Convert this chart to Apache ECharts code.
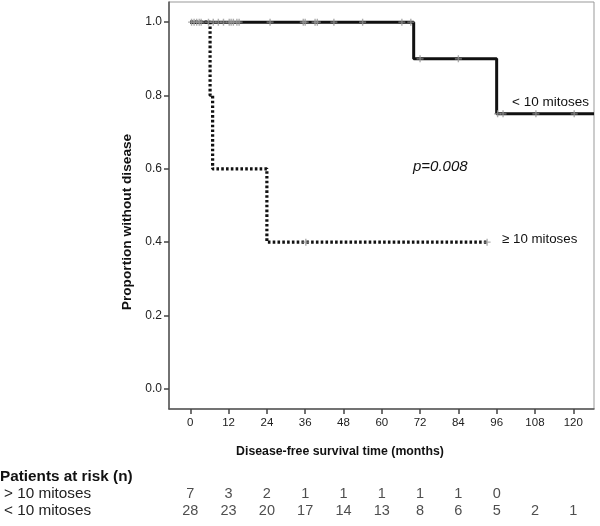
<!DOCTYPE html>
<html>
<head>
<meta charset="utf-8">
<script src="https://cdn.jsdelivr.net/npm/echarts@6/dist/echarts.min.js"></script>
<style>html,body{margin:0;padding:0;background:#fff}#c{width:600px;height:526px}</style>
</head>
<body>
<div id="c"></div>
<script>
// ---- data ----
const months = [0, 12, 24, 36, 48, 60, 72, 84, 96, 108, 120];
const yTicks = [0, 0.2, 0.4, 0.6, 0.8, 1.0];
// < 10 mitoses (solid)
const lowMitTimes = [0, 70, 96, 126.5];
const lowMitSurv = [1.0, 0.9, 0.75, 0.75];
const lowMitCensor = [0.4, 1.2, 2.0, 2.8, 3.4, 5.7, 7.2, 8.8, 10.4, 12.2, 12.8, 13.5, 14.6, 15.3, 25, 35.4, 36, 39.1, 39.8, 45, 54, 66.3, 69.1, 72, 84, 96.3, 98, 108.3, 120.3];
// >= 10 mitoses (dotted)
const highMitTimes = [0, 6.2, 7, 24, 93];
const highMitSurv = [1.0, 0.8, 0.6, 0.4, 0.4];
const highMitCensor = [36.2, 93];
// patients at risk
const riskRows = ['> 10 mitoses', '< 10 mitoses'];
const riskHigh = [7, 3, 2, 1, 1, 1, 1, 1, 0];
const riskLow = [28, 23, 20, 17, 14, 13, 8, 6, 5, 2, 1];

// ---- helpers ----
function survAt(times, surv, t) {
  let v = surv[0];
  for (let i = 0; i < times.length; i++) { if (times[i] <= t) v = surv[i]; }
  return v;
}
const pairs = (ts, vs) => ts.map((t, i) => [t, vs[i]]);
const FONT = 'Liberation Sans, Arial, sans-serif';
const plusPath = 'path://M4,0h2v4h4v2h-4v4h-2v-4h-4v-2h4z';

const chart = echarts.init(document.getElementById('c'), null, {renderer: 'canvas'});
const xMin = -6.67, xMax = 126.5;

const option = {
  animation: false,
  backgroundColor: '#fff',
  textStyle: {fontFamily: FONT},
  grid: [
    {left: 169, top: 2, right: 6, bottom: 117, show: true, borderColor: '#999', borderWidth: 1},
    {left: 169, top: 485, right: 6, height: 34, show: false}
  ],
  xAxis: [
    {
      type: 'value', gridIndex: 0, min: xMin, max: xMax,
      axisLine: {show: true, onZero: false, lineStyle: {color: '#555', width: 1.5}},
      axisTick: {show: true, customValues: months, length: 5, lineStyle: {color: '#444', width: 1.5}},
      axisLabel: {customValues: months, color: '#222', fontSize: 11.5, margin: 8, fontFamily: FONT},
      splitLine: {show: false}
    },
    {type: 'value', gridIndex: 1, min: xMin, max: xMax, show: false}
  ],
  yAxis: [
    {
      type: 'value', gridIndex: 0, min: -0.055, max: 1.055,
      axisLine: {show: true, onZero: false, lineStyle: {color: '#555', width: 1.5}},
      axisTick: {show: true, customValues: yTicks, length: 5, lineStyle: {color: '#444', width: 1.5}},
      axisLabel: {customValues: yTicks, color: '#222', fontSize: 12, margin: 7, fontFamily: FONT,
        formatter: v => v.toFixed(1)},
      splitLine: {show: false}
    },
    {type: 'category', gridIndex: 1, data: riskRows, inverse: true, show: false}
  ],
  series: [
    {
      type: 'line', xAxisIndex: 0, yAxisIndex: 0, step: 'end', symbol: 'none',
      data: pairs(highMitTimes, highMitSurv),
      lineStyle: {color: '#111', width: 3.2, type: [2.6, 2.2]}, z: 3
    },
    {
      type: 'line', xAxisIndex: 0, yAxisIndex: 0, step: 'end', symbol: 'none',
      data: pairs(lowMitTimes, lowMitSurv),
      lineStyle: {color: '#111', width: 3}, z: 4
    },
    {
      type: 'scatter', xAxisIndex: 0, yAxisIndex: 0, symbol: plusPath, symbolSize: 7,
      itemStyle: {color: '#999'}, z: 5,
      data: lowMitCensor.map(t => [t, survAt(lowMitTimes, lowMitSurv, t)])
    },
    {
      type: 'scatter', xAxisIndex: 0, yAxisIndex: 0, symbol: plusPath, symbolSize: 7,
      itemStyle: {color: '#999'}, z: 5,
      data: highMitCensor.map(t => [t, survAt(highMitTimes, highMitSurv, t)])
    },
    {
      type: 'scatter', xAxisIndex: 1, yAxisIndex: 1, symbolSize: 0,
      label: {show: true, position: 'inside', formatter: p => String(p.value[2]), color: '#222', fontSize: 14.5, fontFamily: FONT},
      data: riskHigh.map((n, i) => [months[i], 0, n])
    },
    {
      type: 'scatter', xAxisIndex: 1, yAxisIndex: 1, symbolSize: 0,
      label: {show: true, position: 'inside', formatter: p => String(p.value[2]), color: '#222', fontSize: 14.5, fontFamily: FONT},
      data: riskLow.map((n, i) => [months[i], 1, n])
    }
  ],
  graphic: [
    {type: 'text', x: 127, y: 222, rotation: Math.PI / 2,
      style: {text: 'Proportion without disease', font: 'bold 13.7px ' + FONT, fill: '#111', align: 'center', verticalAlign: 'middle'}},
    {type: 'text', x: 340, y: 452,
      style: {text: 'Disease-free survival time (months)', font: 'bold 12.3px ' + FONT, fill: '#111', align: 'center', verticalAlign: 'middle'}},
    {type: 'text', x: 512, y: 102,
      style: {text: '< 10 mitoses', font: '13.5px ' + FONT, fill: '#111', align: 'left', verticalAlign: 'middle'}},
    {type: 'text', x: 502, y: 239,
      style: {text: '\u2265 10 mitoses', font: '13.3px ' + FONT, fill: '#111', align: 'left', verticalAlign: 'middle'}},
    {type: 'text', x: 413, y: 167,
      style: {text: 'p=0.008', font: 'italic 15px ' + FONT, fill: '#111', align: 'left', verticalAlign: 'middle'}},
    {type: 'text', x: 0, y: 477,
      style: {text: 'Patients at risk (n)', font: 'bold 15.3px ' + FONT, fill: '#111', align: 'left', verticalAlign: 'middle'}},
    {type: 'text', x: 4, y: 494,
      style: {text: riskRows[0], font: '15.3px ' + FONT, fill: '#222', align: 'left', verticalAlign: 'middle'}},
    {type: 'text', x: 4, y: 511,
      style: {text: riskRows[1], font: '15.3px ' + FONT, fill: '#222', align: 'left', verticalAlign: 'middle'}}
  ]
};
chart.setOption(option);
</script>
</body>
</html>
